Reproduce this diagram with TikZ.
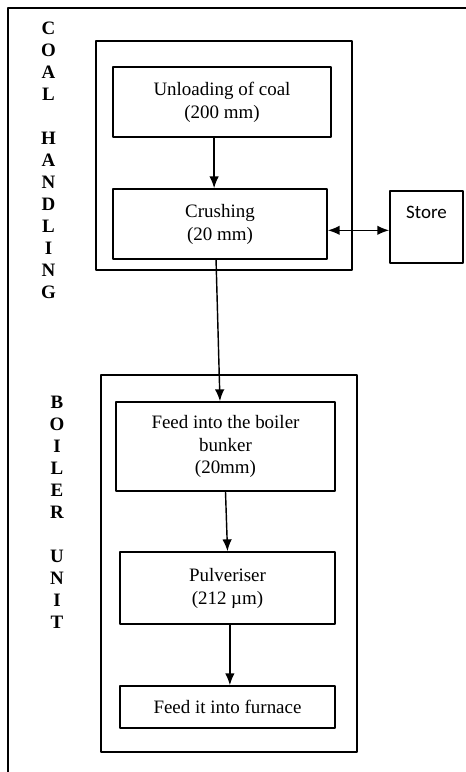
\documentclass[tikz,border=0pt]{standalone}
\usepackage{fontspec}
\setmainfont{Liberation Serif}
\newfontfamily\storefont{Carlito}
\usetikzlibrary{arrows.meta}

\begin{document}
\begin{tikzpicture}[x=0.633pt, y=-0.633pt, font=\fontsize{12}{14.5}\selectfont, line join=round, >={Latex[length=7.5pt,width=6pt]}]
  % Tham số
  \def\px{0.633pt}
  \tikzset{
    stage/.style={draw, line width=1pt, align=center, inner sep=0pt},
    frame/.style={draw, line width=1pt},
    flow/.style={->, line width=0.9pt},
    vletter/.style={font=\bfseries\fontsize{12}{14}\selectfont, anchor=base, inner sep=0pt}
  }
  \useasboundingbox (0,0) rectangle (466,772);
  \clip (0,0) rectangle (466,772);
  % Khung ngoai
  \draw[frame] (8,800) -- (8,8) -- (490,8);
  % Hai nhom
  \draw[frame] (96,41) rectangle (352,270);
  \draw[frame] (101,375) rectangle (357,752);
  % Chu doc
  \foreach \l/\k in {C/0,O/1,A/2,L/3,H/5,A/6,N/7,D/8,L/9,I/10,N/11,G/12}
    \node[vletter] (coal\k) at (48.5,34.5+22*\k) {\l};
  \foreach \l/\k in {B/0,O/1,I/2,L/3,E/4,R/5,U/7,N/8,I/9,T/10}
    \node[vletter] (boil\k) at (57,408+22*\k) {\l};
  % Cac buoc
  \node[stage, minimum width=218*\px, minimum height=70*\px] (unload) at (222,102) {Unloading of coal\\(200 mm)};
  \node[stage, minimum width=214*\px, minimum height=70*\px] (crush) at (220,224) {Crushing\\(20 mm)};
  \node[stage, minimum width=73*\px, minimum height=72*\px] (store) at (426.5,227) {};
  \node[font=\storefont\fontsize{12}{14}\selectfont, inner sep=0pt, yshift=-14pt] (storetext) at (store.north) {Store};
  \node[stage, minimum width=219*\px, minimum height=89*\px] (feed) at (225.5,446.5) {Feed into the boiler\\bunker\\(20mm)};
  \node[stage, minimum width=215*\px, minimum height=72*\px] (pulv) at (227.5,588) {Pulveriser\\(212 µm)};
  \node[stage, minimum width=215*\px, minimum height=42*\px] (furn) at (227.5,707) {Feed it into furnace};
  % Mui ten
  \draw[flow] ([xshift=-5pt]unload.south) -- ([xshift=-5pt]unload.south |- crush.north);
  \draw[flow] ([xshift=-2.5pt]crush.south) -- ([xshift=-3.5pt]feed.north);
  \draw[flow] (feed.south) -- (pulv.north);
  \draw[flow] ([xshift=1.5pt]pulv.south) -- ([xshift=1.5pt]furn.north);
  \draw[<->, line width=1pt] ([yshift=-4pt]crush.east) -- ([yshift=-4pt]crush.east -| store.west);
\end{tikzpicture}
\end{document}
